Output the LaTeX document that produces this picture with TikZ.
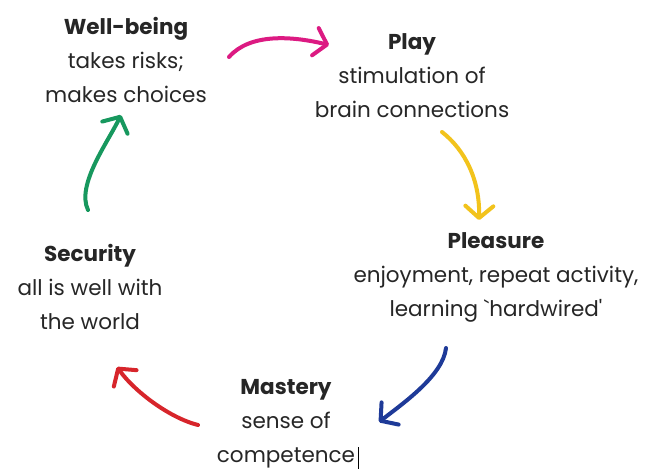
\documentclass[tikz,border=0pt]{standalone}
\usepackage{fontspec}
\setmainfont{Poppins}[Ligatures=TeXOff]
\usetikzlibrary{arrows.meta}
\definecolor{cpink}{HTML}{DC1A82}
\definecolor{cyellow}{HTML}{F2C31C}
\definecolor{cgreen}{HTML}{17985E}
\definecolor{cblue}{HTML}{1E3A98}
\definecolor{cred}{HTML}{D7252B}
\tikzset{
  lbl/.style={align=center, font=\fontsize{21.5}{34}\selectfont, inner sep=0pt, text=black!85},
  cyc/.style={line width=4pt, line cap=round, line join=round,
    -{Straight Barb[length=12pt, width=28pt, line cap=round, line join=round]}}
}
\begin{document}
\begin{tikzpicture}[x=1pt,y=-1pt]
\useasboundingbox[fill=white] (0,0) rectangle (645,470);
\node[lbl] (well) at (126,60) {\textbf{Well-being}\\takes risks;\\makes choices};
\node[lbl] (play) at (412,76) {\textbf{Play}\\stimulation of\\brain connections};
\node[lbl] (pleas) at (496,277) {\textbf{Pleasure}\\enjoyment, repeat activity,\\learning `hardwired'};
\node[lbl] (sec) at (90,287) {\textbf{Security}\\all is well with\\the world};
\node[lbl] (mast) at (286,424) {\textbf{Mastery}\\sense of\\competence};
\coordinate (p1) at (229,57); \coordinate (p2) at (329,45);
\coordinate (y1) at (442,132); \coordinate (y2) at (479,220);
\coordinate (b1) at (446,348); \coordinate (b2) at (379,422);
\coordinate (r1) at (198,425); \coordinate (r2) at (117,367);
\coordinate (g1) at (88,210); \coordinate (g2) at (121,115);
\draw[cyc, cpink] (p1) .. controls (250,33) and (292,36) .. (p2);
\draw[cyc, cyellow] (y1) .. controls (465,150) and (480,180) .. (y2);
\draw[cyc, cblue] (b1) .. controls (443,375) and (405,402) .. (b2);
\draw[cyc, cred] (r1) .. controls (170,418) and (135,392) .. (r2);
\draw[cyc, cgreen] (g1) .. controls (76,185) and (108,142) .. (g2);
\coordinate (cur1) at (358,447); \coordinate (cur2) at (358,469);
\draw[line width=1pt] (cur1) -- (cur2);
\end{tikzpicture}
\end{document}
